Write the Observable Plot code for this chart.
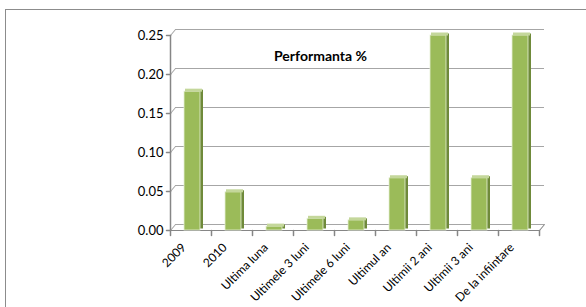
<!DOCTYPE html>
<html>
<head>
<meta charset="utf-8">
<script src="https://cdn.jsdelivr.net/npm/d3@7"></script>
<script src="https://cdn.jsdelivr.net/npm/@observablehq/plot@0.6"></script>
<style>
  html, body { margin: 0; padding: 0; background: #fff; overflow: hidden; width: 586px; height: 307px; }
  #frame { position: absolute; left: 5px; top: 9px; width: 700px; height: 400px; border: 1px solid #8c8c8c; }
  #chart { position: absolute; left: 0; top: 0; }
</style>
</head>
<body>
<div id="frame"></div>
<div id="chart"></div>
<script>
const categories = ["2009", "2010", "Ultima luna", "Ultimele 3 luni", "Ultimele 6 luni", "Ultimul an", "Ultimii 2 ani", "Ultimii 3 ani", "De la infiintare"];
const values = [0.178, 0.049, 0.005, 0.015, 0.013, 0.067, 0.25, 0.067, 0.25];
const yTicks = [0, 0.05, 0.10, 0.15, 0.20, 0.25];
const title = "Performanta %";

const data = categories.map((c, i) => ({cat: c, v: values[i]}));
const line = {draw(ctx, l) { ctx.moveTo(0, 0); ctx.lineTo(0, -l); }};
const gridColor = "#a6a6a6";
const axisColor = "#868686";

const plot = Plot.plot({
  width: 586,
  height: 307,
  marginLeft: 170,
  marginRight: 47,
  marginTop: 35,
  marginBottom: 77,
  style: {fontFamily: "Lato, sans-serif", background: "transparent", overflow: "visible"},
  x: {type: "band", domain: categories, padding: 0, axis: null},
  y: {domain: [0, 0.25], axis: null},
  marks: [
    // back wall gridlines (3D offset)
    Plot.ruleY(yTicks, {dx: 5, dy: -6, stroke: gridColor, strokeWidth: 1}),
    // side wall diagonals
    Plot.vector(yTicks, {y: d => d, frameAnchor: "left", length: 7.8, rotate: 40, anchor: "start", shape: line, stroke: gridColor, strokeWidth: 1}),
    // floor right diagonal
    Plot.vector([0], {y: d => d, frameAnchor: "right", length: 7.8, rotate: 40, anchor: "start", shape: line, stroke: axisColor, strokeWidth: 1}),
    // front floor line
    Plot.ruleY([0], {stroke: axisColor, strokeWidth: 1}),
    // y axis line
    Plot.vector([0], {y: d => d, frameAnchor: "left", length: 195, rotate: 0, anchor: "start", shape: line, stroke: axisColor}),
    // y ticks
    Plot.vector(yTicks, {y: d => d, frameAnchor: "left", length: 4, rotate: 270, anchor: "start", shape: line, stroke: axisColor}),
    Plot.text(yTicks, {y: d => d, frameAnchor: "left", text: d => d.toFixed(2), textAnchor: "end", dx: -7, fontSize: 13, fill: "#000"}),
    // x category boundary ticks
    Plot.vector(data, {x: "cat", y: () => 0, dx: -20.5, length: 5, rotate: 180, anchor: "start", shape: line, stroke: axisColor}),
    Plot.vector([0], {y: d => d, frameAnchor: "right", length: 5, rotate: 180, anchor: "start", shape: line, stroke: axisColor}),
    // bar side face (dark)
    Plot.barY(data, {x: "cat", y: "v", insetLeft: 29, insetRight: 8, dy: -1.5, fill: "#6f8a3a"}),
    // bar front face
    Plot.barY(data, {x: "cat", y: "v", insetLeft: 14, insetRight: 11, fill: "#9bbb59", stroke: "#e6efd6", strokeWidth: 0.8}),
    // bar top face (light)
    Plot.tickY(data, {x: "cat", y: "v", insetLeft: 15, insetRight: 9, dy: -1.5, stroke: "#c4d79b", strokeWidth: 3}),
    // x labels
    Plot.text(data, {x: "cat", y: () => 0, text: "cat", rotate: -45, textAnchor: "end", dx: -7, dy: 15, fontSize: 12, fill: "#000"}),
    // title
    Plot.text([title], {frameAnchor: "top-left", dx: 150, dy: 16, text: d => d, textAnchor: "middle", fontSize: 14, fontWeight: "bold", fill: "#000"})
  ]
});
document.getElementById("chart").appendChild(plot);
</script>
</body>
</html>
